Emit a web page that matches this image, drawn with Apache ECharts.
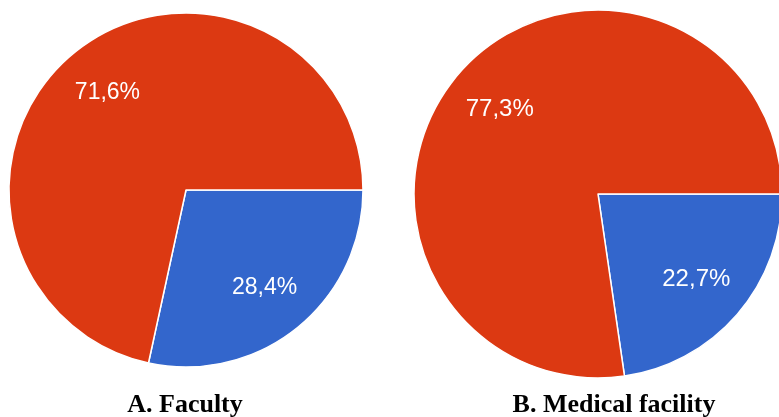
<!DOCTYPE html>
<html>
<head>
<meta charset="utf-8">
<script src="https://cdn.jsdelivr.net/npm/echarts@6/dist/echarts.min.js"></script>
<style>
  html, body { margin: 0; padding: 0; background: #ffffff; }
  #chart { width: 779px; height: 417px; }
</style>
</head>
<body>
<div id="chart"></div>
<script>
// Data
const panelTitles = ['A. Faculty', 'B. Medical facility'];
const sliceNames = ['Second group', 'First group'];   // blue, red
const sliceColors = ['#3366CC', '#DC3912'];
const facultyValues = [28.4, 71.6];
const medicalFacilityValues = [22.7, 77.3];

const panels = [
  { title: panelTitles[0], values: facultyValues, center: [186, 190], r: 177, font: 23, tx: 180 },
  { title: panelTitles[1], values: medicalFacilityValues, center: [598, 194], r: 184, font: 24, tx: 609 }
];

function fmt(v) { return v.toFixed(1).replace('.', ',') + '%'; }

const series = [];
const titles = [];
panels.forEach(function (p) {
  const data = p.values.map(function (v, i) {
    return { name: sliceNames[i], value: v, itemStyle: { color: sliceColors[i] } };
  });
  series.push({
    type: 'pie',
    center: p.center,
    radius: [0, p.r],
    startAngle: 0,
    clockwise: true,
    animation: false,
    silent: true,
    label: { show: false },
    labelLine: { show: false },
    itemStyle: { borderColor: '#ffffff', borderWidth: 1.5 },
    data: data
  });
  // transparent overlay ring used only for label placement
  series.push({
    type: 'pie',
    center: p.center,
    radius: [p.r * 0.38, p.r],
    startAngle: 0,
    clockwise: true,
    animation: false,
    silent: true,
    itemStyle: { color: 'rgba(0,0,0,0)', borderWidth: 0 },
    label: {
      show: true,
      position: 'inside',
      color: '#ffffff',
      fontFamily: 'Liberation Sans, Arial, sans-serif',
      fontSize: p.font,
      formatter: function (d) { return fmt(d.value); }
    },
    labelLine: { show: false },
    data: p.values.map(function (v, i) { return { name: sliceNames[i], value: v }; })
  });
  titles.push({
    text: p.title,
    left: p.tx,
    top: 387,
    textAlign: 'center',
    textStyle: {
      fontFamily: 'Liberation Serif, Times New Roman, serif',
      fontWeight: 'bold',
      fontSize: 26,
      color: '#000000'
    }
  });
});

const chart = echarts.init(document.getElementById('chart'), null, { renderer: 'canvas' });
chart.setOption({
  backgroundColor: '#ffffff',
  animation: false,
  title: titles,
  series: series
});
</script>
</body>
</html>
